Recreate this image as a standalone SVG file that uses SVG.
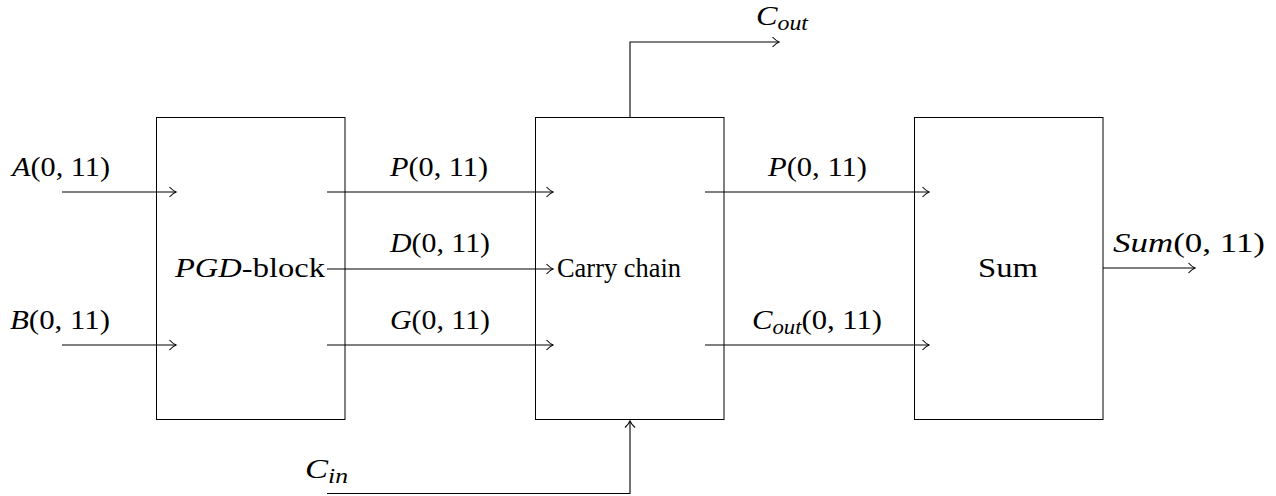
<svg xmlns="http://www.w3.org/2000/svg" width="1276" height="496" viewBox="0 0 1276 496">
<style>
.box{fill:none;stroke:#000;stroke-width:1}
.c{fill:none;stroke:#000;stroke-width:1.1}
text{font-family:'Liberation Serif','Times New Roman',serif;font-size:27px;fill:#000}
.i{font-style:italic}
.s{font-size:20px;font-style:italic}
</style>
<defs>
<marker id="ah" markerUnits="userSpaceOnUse" markerWidth="14" markerHeight="14" viewBox="-10 -7 12 14" refX="0" refY="0" orient="auto">
<path d="M-6.5,-5 Q-3,-1.2 0,0 Q-3,1.2 -6.5,5" fill="none" stroke="#000" stroke-width="1.1"/>
</marker>
</defs>
<rect width="1276" height="496" fill="#fff"/>
<g id="pgd">
<rect class="box" x="156.5" y="117.5" width="188.5" height="302"/>
<text x="175" y="277" textLength="150" lengthAdjust="spacingAndGlyphs"><tspan class="i">PGD</tspan>-block</text>
</g>
<g id="carry">
<rect class="box" x="535.5" y="117.5" width="188.5" height="302"/>
<text x="557" y="277" textLength="124" lengthAdjust="spacingAndGlyphs">Carry chain</text>
</g>
<g id="sum">
<rect class="box" x="914.5" y="117.5" width="188.5" height="302"/>
<text x="978" y="277" textLength="60" lengthAdjust="spacingAndGlyphs">Sum</text>
</g>
<g id="connectors">
<path class="c" d="M62,192H176" marker-end="url(#ah)"/>
<path class="c" d="M62,345H176" marker-end="url(#ah)"/>
<path class="c" d="M327,192H553" marker-end="url(#ah)"/>
<path class="c" d="M327,269H553" marker-end="url(#ah)"/>
<path class="c" d="M327,345H553" marker-end="url(#ah)"/>
<path class="c" d="M705,192H929" marker-end="url(#ah)"/>
<path class="c" d="M705,345H929" marker-end="url(#ah)"/>
<path class="c" d="M1103,268H1195" marker-end="url(#ah)"/>
<path class="c" d="M630,117V42H779" marker-end="url(#ah)"/>
<path class="c" d="M327,493.5H630V421" marker-end="url(#ah)"/>
</g>
<g id="labels">
<text x="12" y="176" textLength="98" lengthAdjust="spacingAndGlyphs"><tspan class="i">A</tspan>(0, 11)</text>
<text x="10" y="329" textLength="100" lengthAdjust="spacingAndGlyphs"><tspan class="i">B</tspan>(0, 11)</text>
<text x="390" y="176" textLength="98" lengthAdjust="spacingAndGlyphs"><tspan class="i">P</tspan>(0, 11)</text>
<text x="390" y="252" textLength="100" lengthAdjust="spacingAndGlyphs"><tspan class="i">D</tspan>(0, 11)</text>
<text x="390" y="329" textLength="100" lengthAdjust="spacingAndGlyphs"><tspan class="i">G</tspan>(0, 11)</text>
<text x="768" y="176" textLength="99" lengthAdjust="spacingAndGlyphs"><tspan class="i">P</tspan>(0, 11)</text>
<text x="752" y="329" textLength="130" lengthAdjust="spacingAndGlyphs"><tspan class="i">C</tspan><tspan class="s" dy="5">out</tspan><tspan dy="-5">(0, 11)</tspan></text>
<text x="1113" y="252" textLength="152" lengthAdjust="spacingAndGlyphs"><tspan class="i">Sum</tspan>(0, 11)</text>
<text x="756" y="25" textLength="52" lengthAdjust="spacingAndGlyphs"><tspan class="i">C</tspan><tspan class="s" dy="5">out</tspan></text>
<text x="305" y="478" textLength="43" lengthAdjust="spacingAndGlyphs"><tspan class="i">C</tspan><tspan class="s" dy="5">in</tspan></text>
</g>
</svg>
